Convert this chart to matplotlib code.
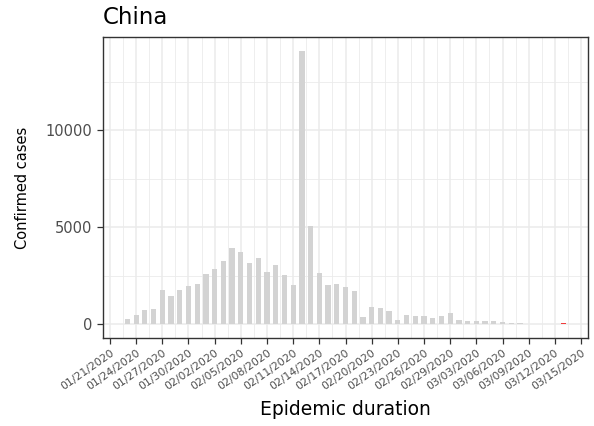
import matplotlib
matplotlib.use("Agg")
import matplotlib.pyplot as plt
import matplotlib.dates as mdates
import pandas as pd

# Daily new confirmed cases, China, 01/23/2020 - 03/13/2020
first_day = "2020-01-23"
cases = [280, 460, 730, 800, 1790, 1480, 1770, 1990, 2100,
         2600, 2840, 3260, 3910, 3750, 3170, 3400, 2680, 3040, 2520, 2040,
         14100, 5090, 2670, 2040, 2080, 1920, 1740, 390, 890, 830, 670, 230,
         500, 430, 430, 330, 440, 600,
         210, 150, 150, 150, 150, 100, 50, 45, 30, 30, 25, 20, 80]
tick_start, tick_end = "2020-01-21", "2020-03-15"
y_ticks = [0, 5000, 10000]
y_minor_ticks = [2500, 7500, 12500]

dates = pd.date_range(first_day, periods=len(cases), freq="D")
# the most recent day is highlighted
colors = ["#d3d3d3"] * (len(cases) - 1) + ["#f03c3c"]

plt.rcParams["font.family"] = ["DejaVu Sans"]

fig = plt.figure(figsize=(5.94, 4.26), dpi=100)
ax = fig.add_axes([103 / 594, 1 - 338 / 426, 485 / 594, 301 / 426])

x = mdates.date2num(dates)
ax.bar(x, cases, width=0.6, color=colors, zorder=2)

tick_dates = pd.date_range(tick_start, tick_end, freq="3D")
ticks = mdates.date2num(tick_dates)
ax.set_xticks(ticks)
ax.set_xticklabels(tick_dates.strftime("%m/%d/%Y"),
                   rotation=35, ha="right", va="top", rotation_mode="anchor",
                   fontsize=7.8, color="#4d4d4d")
ax.set_xticks((ticks[:-1] + ticks[1:]) / 2, minor=True)
ax.set_xlim(ticks[0] - 0.8, ticks[-1] + 0.8)

ymax = max(cases)
ax.set_ylim(-0.05 * ymax, 1.05 * ymax)
ax.set_yticks(y_ticks)
ax.set_yticklabels([str(v) for v in y_ticks], fontsize=10.5, color="#4d4d4d")
ax.set_yticks(y_minor_ticks, minor=True)

ax.grid(which="major", color="#ebebeb", linewidth=1.1, zorder=0)
ax.grid(which="minor", color="#ebebeb", linewidth=0.6, zorder=0)
ax.set_axisbelow(True)
ax.tick_params(which="major", length=4, width=0.9, color="#333333")
ax.tick_params(axis="y", which="major", pad=4)
ax.tick_params(axis="x", which="major", pad=3)
ax.tick_params(which="minor", length=0)
for s in ax.spines.values():
    s.set_color("#333333")
    s.set_linewidth(1.0)

ax.set_xlabel("Epidemic duration", fontsize=13.5, color="black", labelpad=6)
ax.set_ylabel("Confirmed cases", fontsize=10.5, color="black", labelpad=11)
ax.set_title("China", loc="left", fontsize=16.5, color="black", pad=9)

fig.savefig("out.png", dpi=100)
